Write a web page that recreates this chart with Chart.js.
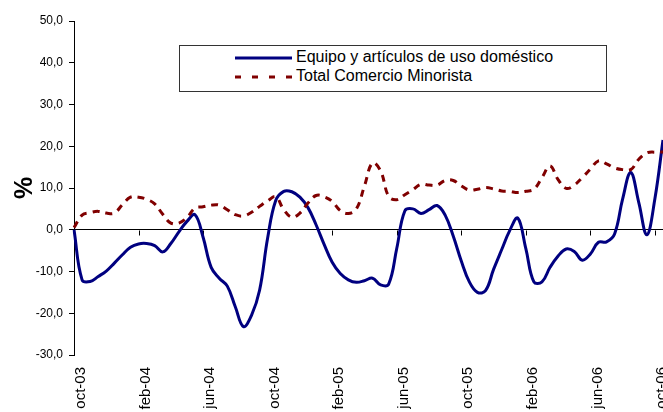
<!DOCTYPE html>
<html lang="es">
<head>
<meta charset="UTF-8">
<title>Equipo y artículos de uso doméstico</title>
<script src="https://cdn.jsdelivr.net/npm/chart.js"></script>
<style>
  html, body { margin: 0; padding: 0; background: #fff; overflow: hidden; }
  #wrap { position: relative; width: 663px; height: 412px; }
  #legend { position: absolute; left: 179px; top: 45px; width: 426px; height: 45px; border: 1px solid #333; background: #fff;
            font: 16px "Liberation Sans", Arial, sans-serif; color: #000; }
  .item { position: absolute; left: 55px; height: 19px; line-height: 19px; white-space: nowrap; }
  .item svg { vertical-align: middle; margin-right: 4px; }
</style>
</head>
<body>
<div id="wrap">
  <canvas id="chart" width="663" height="412"></canvas>
  <div id="legend"></div>
</div>
<script>
// one tick label every 4 months, data every half month
const tickLabels = ['oct-03', 'feb-04', 'jun-04', 'oct-04', 'feb-05', 'jun-05', 'oct-05', 'feb-06', 'jun-06', 'oct-06'];
const pointsPerLabel = 8;

const equipo = [
  0, -12, -12.4, -11.2, -9.9, -8, -6, -4.2,
  -3.4, -3.3, -3.8, -5.3, -3.3, -0.5, 2, 3.6,
  -1.8, -9, -11.6, -13.5, -18.5, -23.2, -20.5, -14.5,
  -2, 7, 9.2, 9.1, 7.8, 5.3, 1.2, -3.5,
  -7.8, -10.5, -12, -12.6, -12.2, -11.6, -13.2, -13,
  -4.5, 4.5, 5, 3.9, 4.8, 5.8, 3.5, -1.5,
  -7.5, -12.5, -15, -14.6, -9.5, -4.8, -0.2, 2.8,
  -4.5, -12.5, -12.5, -9, -6.3, -4.6, -5.2, -7.3,
  -5.8, -3, -2.9, -1, 7.4, 13.7, 6.5, -1.2,
  7.5, 21.5
];
const totalMinorista = [
  0.5, 3.5, 4.1, 4.4, 4, 4, 6, 7.8,
  7.8, 7.3, 6.2, 3.7, 1.6, 1.6, 2.9, 5.2,
  5.5, 5.9, 5.9, 4.8, 3.6, 3.3, 4.2, 5.6,
  6.9, 7.9, 4.8, 3, 4, 6.4, 8.2, 7.9,
  6.8, 4.6, 3.9, 5, 10.5, 16, 14.1, 8,
  7.2, 8.4, 9.6, 10.9, 10.7, 10.7, 11.8, 11.8,
  10.5, 9.5, 9.7, 10.1, 9.8, 9.3, 9.2, 8.9,
  9.2, 9.7, 12.5, 15.3, 12, 9.9, 10.7, 12.5,
  14.5, 16.5, 15.8, 14.8, 14.4, 14.4, 16.9, 18.4,
  18.6, 18.6
];

const categories = equipo.map((v, i) => i % pointsPerLabel === 0 ? tickLabels[i / pointsPerLabel] : '');
const font = '"Liberation Sans", Arial, sans-serif';

// small tick marks on the zero line, under each date label
const zeroAxisTicks = {
  id: 'zeroAxisTicks',
  beforeDatasetsDraw(chart) {
    const { ctx, scales: { x, y } } = chart;
    const y0 = Math.round(y.getPixelForValue(0)) + 0.5;
    ctx.save();
    ctx.strokeStyle = '#000';
    ctx.lineWidth = 1;
    x.ticks.forEach((t, i) => {
      if (!categories[i]) return;
      const px = Math.round(x.getPixelForTick(i)) + 0.5;
      ctx.beginPath();
      ctx.moveTo(px, y0);
      ctx.lineTo(px, y0 + 5);
      ctx.stroke();
    });
    ctx.restore();
  }
};

const chart = new Chart(document.getElementById('chart'), {
  type: 'line',
  data: {
    labels: categories,
    datasets: [
      {
        label: 'Equipo y artículos de uso doméstico',
        data: equipo,
        borderColor: '#000080',
        borderWidth: 3,
        pointRadius: 0,
        tension: 0.4,
        order: 1
      },
      {
        label: 'Total Comercio Minorista',
        data: totalMinorista,
        borderColor: '#800000',
        borderWidth: 3,
        borderDash: [7, 6],
        pointRadius: 0,
        tension: 0.4,
        order: 0
      }
    ]
  },
  options: {
    responsive: false,
    animation: false,
    layout: { padding: { top: 21, left: 0, right: 0, bottom: 0 } },
    plugins: { legend: { display: false }, tooltip: { enabled: false } },
    scales: {
      x: {
        offset: false,
        grid: { display: false, drawTicks: false },
        border: { display: false },
        ticks: {
          autoSkip: false,
          minRotation: 90,
          maxRotation: 90,
          padding: 12,
          labelOffset: 7,
          color: '#000',
          font: { family: font, size: 15 },
          callback: (v, i) => categories[i]
        },
        afterFit: (s) => { s.height = 57; s.paddingLeft = 0; s.paddingRight = 0; }
      },
      y: {
        min: -30,
        max: 50,
        ticks: {
          stepSize: 10,
          padding: 6,
          color: '#000',
          font: { family: font, size: 12 },
          callback: (v) => v.toFixed(1).replace('.', ',')
        },
        grid: {
          color: (c) => c.tick && c.tick.value === 0 ? '#000' : 'rgba(0,0,0,0)',
          tickColor: '#000',
          tickLength: 5
        },
        border: { color: '#000', width: 1 },
        title: {
          display: true,
          text: '%',
          color: '#000',
          font: { family: font, size: 25, weight: 'bold' },
          padding: { top: 10, bottom: 0 }
        },
        afterFit: (s) => { s.width = 74; s.paddingTop = 0; s.paddingBottom = 0; }
      }
    }
  },
  plugins: [zeroAxisTicks]
});

// legend box drawn over the plot, like the original
const legend = document.getElementById('legend');
chart.data.datasets.forEach((ds, i) => {
  const item = document.createElement('div');
  item.className = 'item';
  item.style.top = (i === 0 ? 1 : 20) + 'px';
  const dash = ds.borderDash ? 'stroke-dasharray="6 11"' : '';
  item.innerHTML = '<svg width="57" height="6"><line x1="0" y1="3" x2="57" y2="3" stroke="' + ds.borderColor +
    '" stroke-width="3" ' + dash + '/></svg>' + ds.label;
  legend.appendChild(item);
});
</script>
</body>
</html>
